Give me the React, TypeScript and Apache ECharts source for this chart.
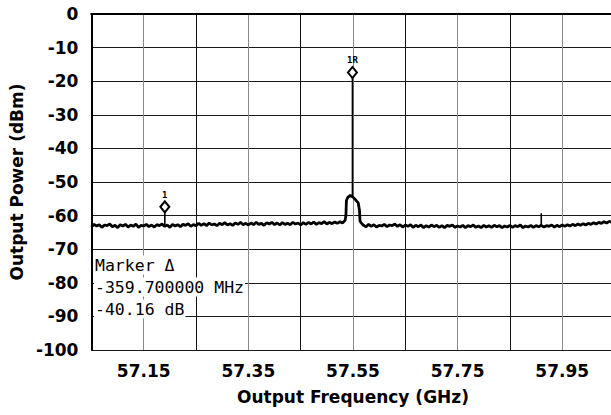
import React, { useEffect, useRef } from "react";
import * as echarts from "echarts";

const xMinGHz = 57.05;
const xMaxGHz = 58.05;
const xTickLabels = ["57.15", "57.35", "57.55", "57.75", "57.95"];
const yMin = -100;
const yMax = 0;
const yStep = 10;
const xAxisTitle = "Output Frequency (GHz)";
const yAxisTitle = "Output Power (dBm)";

// measured trace, one reading every 5 MHz starting at 57.05 GHz
const traceStartGHz = 57.05;
const traceStepGHz = 0.005;
const traceDbm = [
  -63.4, -62.6, -63.1, -62.7, -63.5, -62.8, -63.0, -62.5, -63.3, -62.9, -63.6, -62.7, -63.1, -62.6, -63.4, -62.8, -63.2, -62.5, -63.5, -62.9, -63.1,
  -62.6, -63.3, -62.8, -63.4, -62.7, -63.0, -62.5, -63.2, -62.8, -63.5, -62.6, -63.1, -62.7, -63.3, -62.6, -62.9, -62.4, -63.2, -62.7, -63.0,
  -62.3, -62.9, -62.4, -63.0, -62.2, -62.8, -62.5, -63.0, -62.3, -62.7, -62.1, -62.8, -62.4, -62.9, -62.2, -62.6, -62.0, -62.7, -62.3, -62.8,
  -62.2, -62.7, -62.0, -62.6, -62.3, -62.9, -62.1, -62.5, -62.0, -62.7, -62.2, -62.8, -62.1, -62.6, -62.3, -62.7, -62.0, -62.5, -62.2, -62.8,
  -62.1, -62.6, -62.0, -62.5, -61.9, -62.6, -62.1, -62.4, -61.8, -62.5, -62.0, -62.4, -61.9, -62.3, -61.8,
  -62.2, -61.4, -54.6, -54.0, -54.5, -55.3, -56.2, -62.0, -62.9,
  -63.3, -62.6, -63.2, -62.7, -63.4, -62.9, -63.1, -62.6, -63.3, -62.8, -63.0, -62.5, -63.2, -62.7, -63.4, -62.8,
  -63.2, -62.7, -63.5, -62.9, -63.3, -62.8, -63.6, -63.0, -63.4, -62.8, -63.3, -62.9, -63.5, -63.0, -63.6, -62.9, -63.2, -62.8, -63.5, -63.1,
  -63.4, -62.9, -63.6, -63.0, -63.3, -62.8, -63.5, -63.1, -63.6, -62.9, -63.4, -63.0, -63.5, -62.9, -63.3, -63.0, -63.6, -63.1, -63.4, -62.9,
  -63.5, -63.0, -63.3, -62.8, -63.6, -63.1, -63.4, -62.9, -63.5, -63.0, -63.3, -62.9, -63.4, -63.0, -63.2, -62.8, -63.4, -62.9, -63.3, -62.8,
  -63.2, -62.7, -63.1, -62.6, -63.0, -62.5, -62.9, -62.4, -62.8, -62.3, -62.6, -62.1, -62.5, -62.0, -62.3, -61.8, -62.2, -61.7, -62.0, -61.5,
];

// carrier edges between the 5 MHz readings
const featureGHz = [57.5365, 57.5375, 57.5625, 57.5635];
const featureDbm = [-60.0, -55.5, -58.5, -61.6];

// narrow spikes: frequency, foot and tip
const spikeGHz = [57.1903, 57.549, 57.91];
const spikeFootDbm = [-62.8, -54.2, -62.9];
const spikeTipDbm = [-57.4, -17.4, -59.3];

const markerGHz = [57.1903, 57.549];
const markerDbm = [-57.4, -17.4];
const markerNames = ["1", "1R"];

const readoutLines = ["Marker \u0394", "-359.700000 MHz", "-40.16 dB"];

export default function App() {
  const ref = useRef<HTMLDivElement>(null);

  useEffect(() => {
    if (!ref.current) return;
    const chart = echarts.init(ref.current, undefined, { renderer: "svg" });

    const trace: [number, number][] = traceDbm.map((v, i) => [
      +(traceStartGHz + i * traceStepGHz).toFixed(4),
      v,
    ]);
    featureGHz.forEach((f, i) => trace.push([f, featureDbm[i]]));
    trace.sort((a, b) => a[0] - b[0]);

    const spikes: any[] = [];
    spikeGHz.forEach((f, i) => {
      spikes.push([f, spikeFootDbm[i]], [f, spikeTipDbm[i]], "-");
    });

    const markers = markerGHz.map((f, i) => ({ name: markerNames[i], value: [f, markerDbm[i]] }));
    const xLabelValues = xTickLabels.map((s) => parseFloat(s));

    const axisFont = "DejaVu Sans, sans-serif";

    chart.setOption({
      animation: false,
      backgroundColor: "#ffffff",
      grid: {
        left: 89.5,
        right: 10.5,
        top: 14,
        bottom: 65,
      },
      xAxis: [
        {
          type: "value",
          min: xMinGHz,
          max: xMaxGHz,
          name: xAxisTitle,
          nameLocation: "middle",
          nameGap: 38,
          nameTextStyle: { fontFamily: axisFont, fontWeight: "bold", fontSize: 17, color: "#000000" },
          axisLine: { show: true, lineStyle: { color: "#000000", width: 2 } },
          axisTick: { show: false },
          splitLine: { show: false },
          axisLabel: {
            customValues: xLabelValues,
            formatter: (v: number) => {
              const hit = xTickLabels.find((s) => Math.abs(parseFloat(s) - v) < 1e-6);
              return hit ?? "";
            },
            fontFamily: axisFont,
            fontWeight: "bold",
            fontSize: 17,
            color: "#000000",
            margin: 12,
          },
        },
        {
          type: "value",
          min: 0,
          max: 10,
          interval: 1,
          position: "top",
          axisLine: { show: true, onZero: false, lineStyle: { color: "#000000", width: 2 } },
          axisTick: { show: false },
          axisLabel: { show: false },
          splitLine: { show: true, lineStyle: { color: ["#111111", "#8a8a8a"], width: 1 } },
        },
      ],
      yAxis: {
        type: "value",
        min: yMin,
        max: yMax,
        interval: yStep,
        name: yAxisTitle,
        nameLocation: "middle",
        nameGap: 64,
        nameTextStyle: { fontFamily: axisFont, fontWeight: "bold", fontSize: 17, color: "#000000" },
        axisLine: { show: true, lineStyle: { color: "#000000", width: 2 } },
        axisTick: { show: false },
        splitLine: { show: true, lineStyle: { color: "#1a1a1a", width: 1 } },
        axisLabel: {
          fontFamily: axisFont,
          fontWeight: "bold",
          fontSize: 17,
          color: "#000000",
          margin: 13,
        },
      },
      series: [
        {
          type: "line",
          xAxisIndex: 0,
          data: trace,
          symbol: "none",
          lineStyle: { color: "#000000", width: 2.8 },
          z: 3,
        },
        {
          type: "line",
          xAxisIndex: 0,
          data: spikes,
          symbol: "none",
          connectNulls: false,
          lineStyle: { color: "#000000", width: 1.6 },
          z: 3,
        },
        {
          type: "scatter",
          xAxisIndex: 0,
          data: markers,
          symbol: "diamond",
          symbolSize: [9, 11],
          itemStyle: { color: "#ffffff", borderColor: "#000000", borderWidth: 2, opacity: 1 },
          label: {
            show: true,
            position: "top",
            distance: 1,
            formatter: (p: any) => p.name,
            fontFamily: "DejaVu Sans Mono, monospace",
            fontWeight: "bold",
            fontSize: 9,
            color: "#000000",
          },
          z: 4,
        },
      ],
      graphic: readoutLines.map((t, i) => ({
        type: "text",
        x: 94,
        y: 265 + i * 22,
        z: 10,
        style: {
          text: t,
          font: "16.5px 'DejaVu Sans Mono', monospace",
          fill: "#000000",
          verticalAlign: "middle",
          backgroundColor: "#ffffff",
          padding: [1, 1],
        },
      })),
    });

    return () => chart.dispose();
  }, []);

  return (
    <div style={{ position: "absolute", left: 0, top: 0, width: 611, height: 415, overflow: "hidden", background: "#fff" }}>
      <div ref={ref} style={{ width: 625, height: 415 }} />
    </div>
  );
}
